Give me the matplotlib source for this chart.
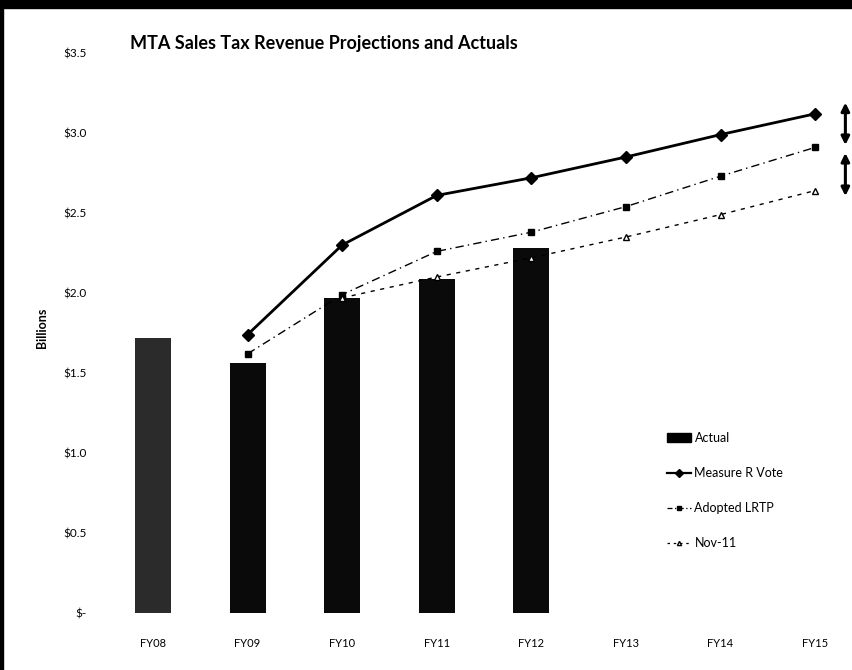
import numpy as np
import matplotlib
matplotlib.use("Agg")
import matplotlib.pyplot as plt
import matplotlib.patches as mpatches
from matplotlib.lines import Line2D

plt.rcParams['font.family'] = ['Lato', 'DejaVu Sans']

years = ['FY08', 'FY09', 'FY10', 'FY11', 'FY12', 'FY13', 'FY14', 'FY15']
actual = [1.72, 1.56, 1.97, 2.09, 2.28]
measure_r = [np.nan, 1.74, 2.30, 2.61, 2.72, 2.85, 2.99, 3.12]
adopted_lrtp = [np.nan, 1.62, 1.99, 2.26, 2.38, 2.54, 2.73, 2.91]
nov_11 = [np.nan, np.nan, 1.97, 2.10, 2.22, 2.35, 2.49, 2.64]

yticks = [0, 0.5, 1.0, 1.5, 2.0, 2.5, 3.0, 3.5]
ytick_labels = ['$-', '$0.5', '$1.0', '$1.5', '$2.0', '$2.5', '$3.0', '$3.5']

fig = plt.figure(figsize=(8.52, 6.70), dpi=100)
ax = fig.add_axes([105.7 / 852, 57 / 670, (852 - 105.7) / 852, 560 / 670])

x = np.arange(len(years))

bar_colors = ['#2b2b2b', '#0a0a0a', '#0a0a0a', '#0a0a0a', '#0a0a0a']
ax.bar(x[:len(actual)], actual, width=0.38, color=bar_colors, zorder=2)

ax.plot(x, measure_r, color='black', lw=2.0, marker='D', ms=6.5, zorder=4)
ax.plot(x, adopted_lrtp, color='black', lw=1.0, ls=(0, (6, 3, 1, 3)),
        marker='s', ms=4.5, zorder=3)
ax.plot(x, nov_11, color='black', lw=1.0, ls=(0, (3, 4)),
        marker='^', ms=5, mfc='white', mec='black', zorder=3)

# gap arrows to the right of FY15
ax.annotate('', xy=(7.32, 3.19), xytext=(7.32, 2.925),
            arrowprops=dict(arrowstyle='<|-|>', color='black', lw=2.2,
                            mutation_scale=12, shrinkA=0, shrinkB=0),
            annotation_clip=False)
ax.annotate('', xy=(7.32, 2.875), xytext=(7.32, 2.606),
            arrowprops=dict(arrowstyle='<|-|>', color='black', lw=2.2,
                            mutation_scale=12, shrinkA=0, shrinkB=0),
            annotation_clip=False)

ax.set_xlim(-0.5, 7.39)
ax.set_ylim(0, 3.5)
ax.set_xticks(x)
ax.set_xticklabels(years, fontsize=8)
ax.set_yticks(yticks)
ax.set_yticklabels(ytick_labels, fontsize=8.5)
ax.tick_params(axis='both', length=0)
ax.tick_params(axis='x', pad=18)
ax.tick_params(axis='y', pad=14)
for s in ax.spines.values():
    s.set_visible(False)

fig.text(42 / 852, 1 - 328 / 670, 'Billions', rotation=90, fontsize=9,
         fontweight='bold', ha='center', va='center')
fig.text(130 / 852, 1 - 43 / 670, 'MTA Sales Tax Revenue Projections and Actuals',
         fontsize=13, fontweight='bold', ha='left', va='center')

handles = [
    mpatches.Patch(color='black', label='Actual'),
    Line2D([], [], color='black', lw=1.6, marker='D', ms=4, label='Measure R Vote'),
    Line2D([], [], color='black', lw=0.9, ls=(0, (4, 2, 1, 2)), marker='s', ms=3,
           label='Adopted LRTP'),
    Line2D([], [], color='black', lw=0.9, ls=(0, (2, 3)), marker='^', ms=3,
           mfc='white', label='Nov-11'),
]
fig.legend(handles=handles, loc='upper left', bbox_to_anchor=(662 / 852, 1 - 427 / 670),
           frameon=False, fontsize=9, handlelength=1.9, handletextpad=0.3,
           labelspacing=1.85, borderaxespad=0)

# scanned page border
fig.patches.append(mpatches.Rectangle((0, 1 - 8 / 670), 1, 8 / 670,
                                      transform=fig.transFigure, color='black'))
fig.patches.append(mpatches.Rectangle((0, 0), 3 / 852, 1,
                                      transform=fig.transFigure, color='black'))

fig.savefig('out.png', dpi=100)
